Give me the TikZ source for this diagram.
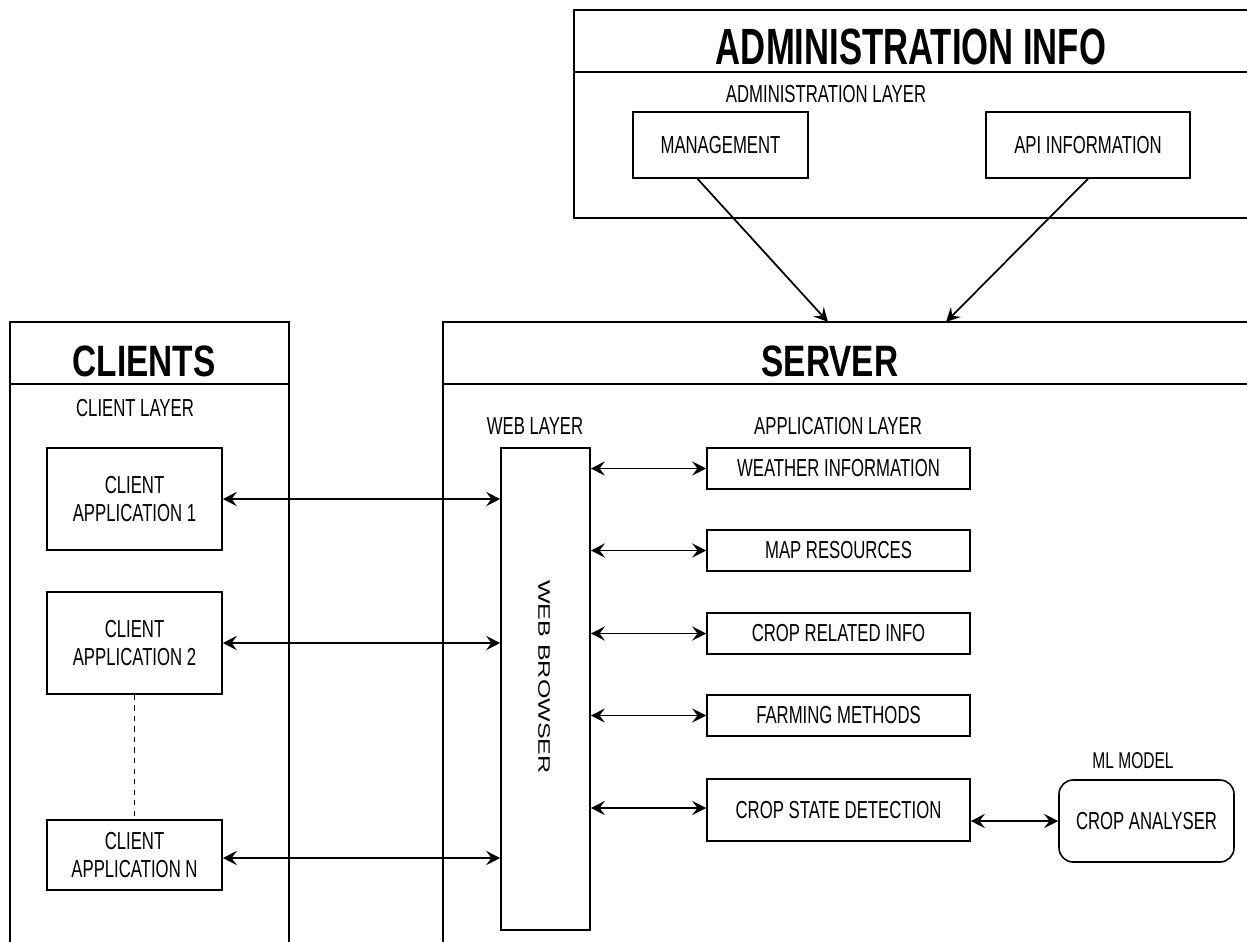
\documentclass[tikz,border=0pt]{standalone}
\usepackage{fontspec}
\setmainfont{Liberation Sans}[FakeStretch=0.68]
\newfontfamily\ttlfont{Liberation Sans}[FakeStretch=0.76]
\newfontfamily\admfont{Liberation Sans}[FakeStretch=0.68]
\newfontfamily\vertfont{Liberation Sans}[FakeStretch=1.5]
\usetikzlibrary{arrows.meta}

\tikzset{
  txt/.style={font=\fontsize{14}{16}\selectfont},
  ttl/.style={font=\ttlfont\bfseries\fontsize{25}{28}\selectfont},
  blk/.style={draw, line width=0.9pt, txt, align=center, inner sep=0pt, minimum width=3.5cm},
  appblk/.style={blk, minimum width=5.26cm, minimum height=0.82cm},
  frame/.style={line width=0.9pt},
  link/.style={line width=1.1pt, {Stealth[length=8pt,width=8pt,inset=3pt]}-{Stealth[length=8pt,width=8pt,inset=3pt]}},
  feed/.style={line width=1pt, -{Stealth[length=8pt,width=8pt,inset=3pt]}}
}

\begin{document}
\begin{tikzpicture}[x=0.02cm, y=-0.02cm]
  \useasboundingbox (0,0) rectangle (1247,942);

  % admin frame
  \draw[frame] (1247,10) -- (574,10) -- (574,218) -- (1247,218);
  \draw[frame] (574,72) -- (1247,72);
  \node[font=\admfont\bfseries\fontsize{29}{32}\selectfont] (admtitle) at (911,47) {ADMINISTRATION INFO};
  \node[txt] (admlayer) at (826,94) {ADMINISTRATION LAYER};
  \node[blk, minimum height=1.32cm] (mgmt) at (720.5,145) {MANAGEMENT};
  \node[blk, minimum width=4.08cm, minimum height=1.32cm] (api) at (1088,145) {API INFORMATION};

  % clients frame
  \draw[frame] (10,942) -- (10,322) -- (289,322) -- (289,942);
  \draw[frame] (10,384) -- (289,384);
  \node[ttl] (clititle) at (144,361) {CLIENTS};
  \node[txt] (clilayer) at (135,408) {CLIENT LAYER};
  \node[blk, minimum height=2.04cm] (app1) at (134.5,499) {CLIENT\\APPLICATION 1};
  \node[blk, minimum height=2.04cm] (app2) at (134.5,643) {CLIENT\\APPLICATION 2};
  \node[blk, minimum height=1.4cm] (appn) at (134.5,855) {CLIENT\\APPLICATION N};
  \draw[dashed, line width=0.8pt] (app2) -- (appn);

  % server frame
  \draw[frame] (1247,322) -- (443,322) -- (443,942);
  \draw[frame] (443,384) -- (1247,384);
  \node[ttl] (srvtitle) at (830,361) {SERVER};
  \coordinate (srvA) at (828,322);
  \coordinate (srvB) at (946,322);
  \node[txt] (weblayer) at (535,426) {WEB LAYER};
  \node[txt] (applayer) at (838,426) {APPLICATION LAYER};
  \node[blk, minimum width=1.78cm, minimum height=9.64cm] (browser) at (545.5,689) {};
  \node[font=\vertfont\fontsize{9.5}{11}\selectfont, rotate=-90] (browsertxt) at (544,677) {WEB BROWSER};

  \node[appblk] (weather) at (838.5,468.5) {WEATHER INFORMATION};
  \node[appblk] (map) at (838.5,550.5) {MAP RESOURCES};
  \node[appblk] (croprel) at (838.5,633.5) {CROP RELATED INFO};
  \node[appblk] (farming) at (838.5,715.5) {FARMING METHODS};
  \node[appblk, minimum height=1.24cm] (detect) at (838.5,810) {CROP STATE DETECTION};

  \node[font=\fontsize{13}{15}\selectfont] (mllayer) at (1133,761) {ML MODEL};
  \node[blk, rounded corners=8pt, minimum height=1.64cm] (analyser) at (1146.5,821) {CROP ANALYSER};

  % connectors
  \draw[feed] ([xshift=-0.46cm]mgmt.south) -- (srvA);
  \draw[feed] (api.south) -- (srvB);

  \draw[link] (app1.east) -- (app1.east -| browser.west);
  \draw[link] (app2.east) -- (app2.east -| browser.west);
  \draw[link] ([yshift=-0.06cm]appn.east) -- ([yshift=-0.06cm]appn.east -| browser.west);

  \foreach \n in {weather,map,croprel,farming}
    \draw[link] (\n.west -| browser.east) -- (\n.west);
  \draw[link] ([yshift=0.04cm]detect.west -| browser.east) -- ([yshift=0.04cm]detect.west);

  \draw[link] (detect.east |- analyser.west) -- (analyser.west);
\end{tikzpicture}
\end{document}
